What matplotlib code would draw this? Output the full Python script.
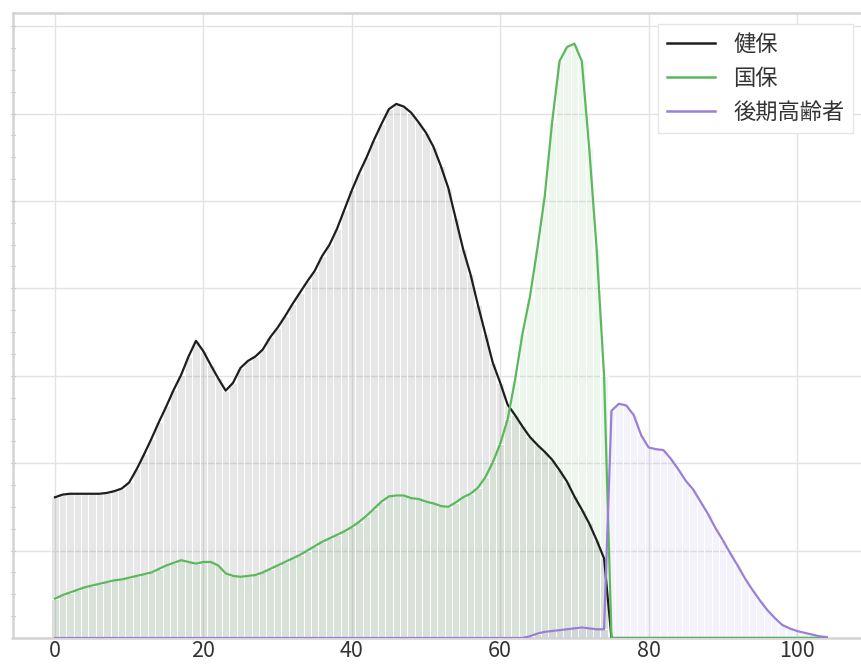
import numpy as np
import matplotlib.pyplot as plt
from matplotlib.ticker import MultipleLocator, AutoMinorLocator

plt.rcParams['font.family'] = ['Noto Sans CJK JP', 'DejaVu Sans']

# ---- data (relative units) ----
ages = np.arange(0, 105)

kenpo_0_74 = [1.61, 1.64, 1.65, 1.65, 1.65, 1.65, 1.65, 1.66, 1.68, 1.71,
              1.78, 1.93, 2.10, 2.28, 2.47, 2.65, 2.84, 3.01, 3.22, 3.40,
              3.28, 3.12, 2.97, 2.83, 2.92, 3.09, 3.17, 3.22, 3.30, 3.44,
              3.55, 3.68, 3.82, 3.95, 4.08, 4.20, 4.37, 4.50, 4.68, 4.90,
              5.12, 5.32, 5.50, 5.70, 5.88, 6.05, 6.11, 6.08, 6.01, 5.90,
              5.78, 5.62, 5.40, 5.15, 4.80, 4.45, 4.16, 3.81, 3.48, 3.15,
              2.92, 2.67, 2.55, 2.42, 2.30, 2.21, 2.13, 2.04, 1.92, 1.79,
              1.62, 1.47, 1.31, 1.12, 0.91]

kokuho_0_74 = [0.45, 0.49, 0.52, 0.55, 0.58, 0.60, 0.62, 0.64, 0.66, 0.67,
               0.69, 0.71, 0.73, 0.75, 0.79, 0.83, 0.86, 0.89, 0.87, 0.85,
               0.87, 0.87, 0.83, 0.74, 0.71, 0.70, 0.71, 0.72, 0.75, 0.79,
               0.83, 0.87, 0.91, 0.95, 1.00, 1.05, 1.10, 1.14, 1.18, 1.22,
               1.27, 1.33, 1.40, 1.48, 1.56, 1.62, 1.63, 1.63, 1.60, 1.59,
               1.56, 1.54, 1.51, 1.50, 1.55, 1.61, 1.65, 1.72, 1.84, 2.01,
               2.22, 2.50, 2.95, 3.48, 3.90, 4.45, 5.05, 5.90, 6.60, 6.76,
               6.80, 6.60, 5.60, 4.45, 3.00]

kouki_64_104 = [0.02, 0.05, 0.07, 0.08, 0.09, 0.10, 0.11, 0.12, 0.11, 0.10,
                0.10, 2.60, 2.68, 2.66, 2.55, 2.32, 2.18, 2.16, 2.15, 2.05,
                1.93, 1.80, 1.70, 1.56, 1.42, 1.26, 1.12, 0.97, 0.83, 0.68,
                0.55, 0.43, 0.32, 0.23, 0.15, 0.11, 0.08, 0.06, 0.04, 0.02,
                0.01]

kenpo = np.array(kenpo_0_74 + [0.0] * 30)
kokuho = np.array(kokuho_0_74 + [0.0] * 30)
kouki = np.array([0.0] * 64 + kouki_64_104)

labels = ['健保', '国保', '後期高齢者']
line_colors = ['#1e1e1e', '#5cb85c', '#9b7fd6']
fill_colors = [(0.5, 0.5, 0.5, 0.19), (0.36, 0.72, 0.36, 0.1), (0.6, 0.5, 0.84, 0.1)]

fig = plt.figure(figsize=(8.62, 6.66), dpi=100)
ax = fig.add_axes([13 / 862, 28 / 666, 851.5 / 862, 625 / 666])

for vals, fc in zip([kenpo, kokuho, kouki], fill_colors):
    ax.bar(ages, vals, width=1.0, color=fc, edgecolor='white', linewidth=0.7, zorder=2)

for vals, lc, lab in zip([kenpo, kokuho, kouki], line_colors, labels):
    ax.plot(ages, vals, color=lc, lw=1.6, label=lab, zorder=3)

ax.set_xlim(-5.66, 109.1)
ax.set_ylim(0, 7.15)
ax.xaxis.set_major_locator(MultipleLocator(20))
ax.yaxis.set_major_locator(MultipleLocator(1))
ax.yaxis.set_minor_locator(AutoMinorLocator(4))
ax.grid(True, color='#e3e3e3', lw=1.0, zorder=0)
ax.set_axisbelow(True)

for s in ax.spines.values():
    s.set_color('#d4d4d4')
    s.set_linewidth(1.8)

ax.tick_params(axis='x', length=0, pad=1.5, labelsize=15.5, labelcolor='#333333')
ax.tick_params(axis='y', which='both', direction='inout', length=3, width=0.8,
               color='#aaaaaa', labelleft=False)

leg = ax.legend(loc='upper right', fontsize=16, fancybox=False, framealpha=1,
                edgecolor='#e6e6e6', handlelength=2.2, borderaxespad=0.5)
for h in leg.get_lines():
    h.set_linewidth(1.8)
for t in leg.get_texts():
    t.set_color('#333333')

fig.savefig('out.png', dpi=100)
